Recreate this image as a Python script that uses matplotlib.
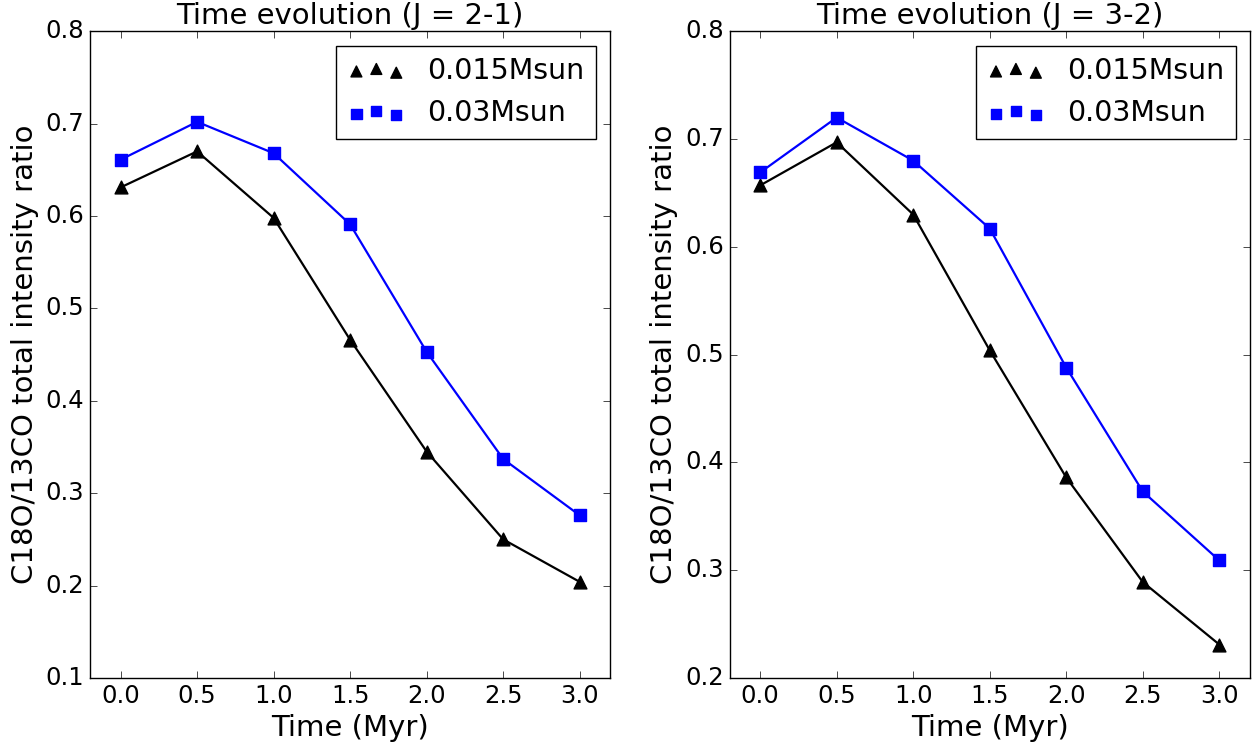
import matplotlib
matplotlib.use("Agg")
import matplotlib.pyplot as plt

# Data
time = [0.0, 0.5, 1.0, 1.5, 2.0, 2.5, 3.0]

j21_low = [0.631, 0.670, 0.598, 0.466, 0.345, 0.250, 0.204]
j21_high = [0.661, 0.702, 0.668, 0.591, 0.453, 0.337, 0.276]

j32_low = [0.657, 0.697, 0.630, 0.504, 0.386, 0.289, 0.231]
j32_high = [0.669, 0.720, 0.680, 0.617, 0.488, 0.373, 0.309]

labels = ["0.015Msun", "0.03Msun"]
titles = ["Time evolution (J = 2-1)", "Time evolution (J = 3-2)"]
ylims = [(0.1, 0.8), (0.2, 0.8)]

plt.style.use("classic")
plt.rcParams["figure.facecolor"] = "white"
plt.rcParams["savefig.facecolor"] = "white"
plt.rcParams["font.family"] = "DejaVu Sans"

fig = plt.figure(figsize=(12.6, 7.45), dpi=100)
ax1 = fig.add_axes([0.0714, 0.090, 0.413, 0.868])
ax2 = fig.add_axes([0.579, 0.090, 0.413, 0.868])

panels = [(ax1, j21_low, j21_high), (ax2, j32_low, j32_high)]

for i, (ax, low, high) in enumerate(panels):
    ax.plot(time, low, color="black", lw=1.6)
    ax.plot(time, high, color="blue", lw=1.6)
    ax.scatter(time, low, marker="^", s=85, color="black", zorder=3, label=labels[0])
    ax.scatter(time, high, marker="s", s=75, color="blue", edgecolor="blue", zorder=3, label=labels[1])
    ax.set_xlim(-0.2, 3.2)
    ax.set_ylim(*ylims[i])
    ax.set_xticks(time)
    ax.tick_params(labelsize=17.5, length=5)
    ax.set_xlabel("Time (Myr)", fontsize=21)
    ax.set_ylabel("C18O/13CO total intensity ratio", fontsize=21)
    ax.set_title(titles[i], fontsize=21)
    ax.legend(loc="upper right", fontsize=20.5, scatterpoints=3, fancybox=False,
              markerscale=0.85)

fig.savefig("out.png", dpi=100)
